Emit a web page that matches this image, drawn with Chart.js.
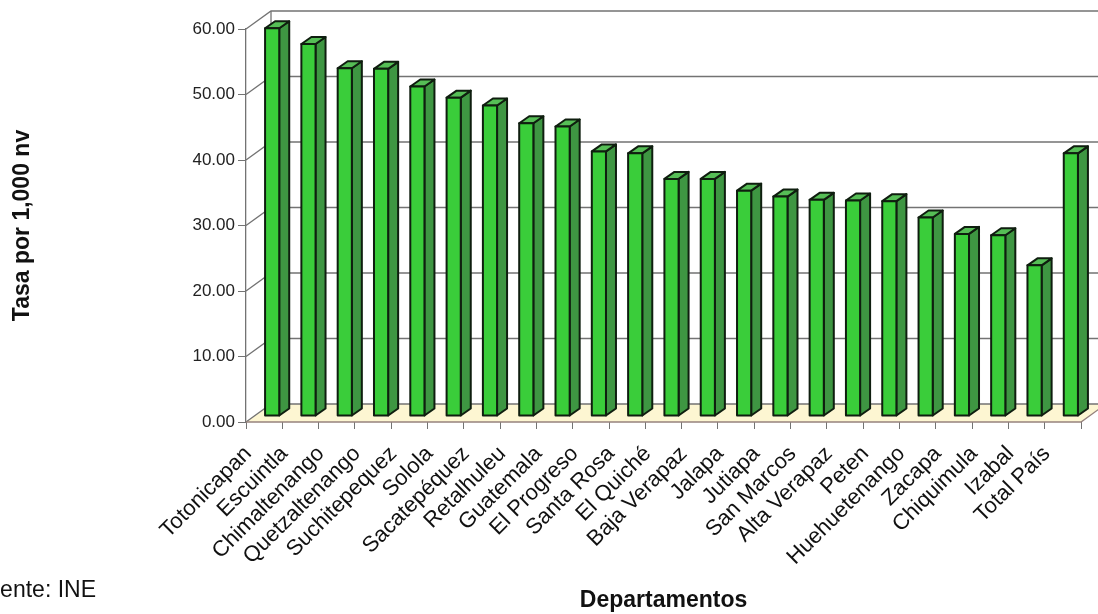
<!DOCTYPE html>
<html>
<head>
<meta charset="utf-8">
<script src="https://cdn.jsdelivr.net/npm/chart.js@4"></script>
<style>
  html, body { margin: 0; padding: 0; background: #fff; }
  #wrap { width: 1098px; height: 614px; position: relative; }
</style>
</head>
<body>
<div id="wrap"><canvas id="myChart"></canvas></div>
<script>
// Tasa por 1,000 nv, por departamento
const departamentos = [
  "Totonicapan", "Escuintla", "Chimaltenango", "Quetzaltenango", "Suchitepequez",
  "Solola", "Sacatepéquez", "Retalhuleu", "Guatemala", "El Progreso", "Santa Rosa",
  "El Quiché", "Baja Verapaz", "Jalapa", "Jutiapa", "San Marcos", "Alta Verapaz",
  "Peten", "Huehuetenango", "Zacapa", "Chiquimula", "Izabal", "Total País"
]
const tasas = [
  59.2, 56.8, 53.1, 53.0, 50.3,
  48.6, 47.4, 44.7, 44.2, 40.4, 40.1,
  36.2, 36.2, 34.4, 33.5, 33.0, 32.9,
  32.8, 30.3, 27.8, 27.6, 23.0, 40.1
]
const yTicks = [0, 10, 20, 30, 40, 50, 60]

// 3D look: depth of the floor, and where the bar boxes sit inside it
const floorDepth = { dx: 25, dy: -18 }
const barShift = { dx: 8, dy: -6 }
const barDepth = { dx: 10, dy: -7 }

const FONT = "'Liberation Sans', Arial, sans-serif"

const box3d = {
  id: "box3d",
  beforeDatasetsDraw(chart) {
    const { ctx, chartArea: a, scales: { y } } = chart
    const dx = floorDepth.dx, dy = floorDepth.dy
    ctx.save()

    // floor
    ctx.fillStyle = "rgb(253, 246, 210)"
    ctx.beginPath()
    ctx.moveTo(a.left, a.bottom)
    ctx.lineTo(a.right, a.bottom)
    ctx.lineTo(a.right + dx, a.bottom + dy)
    ctx.lineTo(a.left + dx, a.bottom + dy)
    ctx.closePath()
    ctx.fill()

    // back wall + left wall grid
    ctx.strokeStyle = "rgb(115, 115, 115)"
    ctx.lineWidth = 1.3
    yTicks.forEach(v => {
      const py = y.getPixelForValue(v)
      ctx.beginPath()
      ctx.moveTo(a.left, py)
      ctx.lineTo(a.left + dx, py + dy)
      ctx.lineTo(chart.width + 20, py + dy)
      ctx.stroke()
    })
    // back corner of the walls
    ctx.beginPath()
    ctx.moveTo(a.left + dx, y.getPixelForValue(60) + dy)
    ctx.lineTo(a.left + dx, a.bottom + dy)
    ctx.stroke()

    // floor front edge and right edge
    ctx.strokeStyle = "rgb(150, 130, 125)"
    ctx.beginPath()
    ctx.moveTo(a.left, a.bottom)
    ctx.lineTo(a.right, a.bottom)
    ctx.lineTo(a.right + dx, a.bottom + dy)
    ctx.stroke()
    ctx.restore()
  },
  afterDatasetsDraw(chart) {
    const { ctx } = chart
    const meta = chart.getDatasetMeta(0)
    ctx.save()
    ctx.lineJoin = "round"
    ctx.lineWidth = 2
    ctx.strokeStyle = "rgb(15, 30, 15)"
    meta.data.forEach(bar => {
      const { x, y, base, width } = bar.getProps(["x", "y", "base", "width"], true)
      const l = x - width / 2 + barShift.dx
      const r = x + width / 2 + barShift.dx
      const t = y + barShift.dy
      const b = base + barShift.dy
      const dx = barDepth.dx, dy = barDepth.dy

      // side
      ctx.fillStyle = "rgb(62, 150, 66)"
      ctx.beginPath()
      ctx.moveTo(r, t)
      ctx.lineTo(r + dx, t + dy)
      ctx.lineTo(r + dx, b + dy)
      ctx.lineTo(r, b)
      ctx.closePath()
      ctx.fill()
      ctx.stroke()

      // top
      ctx.fillStyle = "rgb(86, 190, 86)"
      ctx.beginPath()
      ctx.moveTo(l, t)
      ctx.lineTo(l + dx, t + dy)
      ctx.lineTo(r + dx, t + dy)
      ctx.lineTo(r, t)
      ctx.closePath()
      ctx.fill()
      ctx.stroke()

      // front
      ctx.fillStyle = "rgb(58, 205, 58)"
      ctx.fillRect(l, t, r - l, b - t)
      ctx.strokeRect(l, t, r - l, b - t)
    })
    ctx.restore()
  },
  afterDraw(chart) {
    const { ctx } = chart
    ctx.save()
    ctx.font = "23px " + FONT
    ctx.fillStyle = "#111"
    ctx.textAlign = "right"
    ctx.textBaseline = "alphabetic"
    ctx.fillText("Fuente: INE", 96, 597)
    ctx.restore()
  }
}

new Chart("myChart", {
  type: "bar",
  data: {
    labels: departamentos,
    datasets: [{
      label: "Tasa por 1,000 nv",
      data: tasas,
      backgroundColor: "rgba(0, 0, 0, 0)",
      borderWidth: 0,
      categoryPercentage: 1,
      barPercentage: 0.39
    }]
  },
  options: {
    responsive: true,
    maintainAspectRatio: false,
    animation: false,
    layout: { padding: { top: 29, right: 17, left: 0, bottom: 0 } },
    plugins: {
      legend: { display: false },
      tooltip: { enabled: false }
    },
    scales: {
      x: {
        afterFit(scale) { scale.height = 192 },
        grid: { offset: true, drawOnChartArea: false, tickLength: 7, color: "rgb(115, 115, 115)" },
        border: { display: false },
        ticks: {
          autoSkip: false,
          maxRotation: 45,
          minRotation: 45,
          labelOffset: -16,
          padding: 12,
          color: "#111",
          font: { family: FONT, size: 22 }
        },
        title: {
          display: true,
          text: "Departamentos",
          color: "#111",
          padding: { top: 0, bottom: 0 },
          font: { family: FONT, size: 23, weight: "bold" }
        }
      },
      y: {
        min: 0,
        max: 60,
        afterFit(scale) { scale.width = 246 },
        afterBuildTicks(scale) { scale.ticks = yTicks.map(v => ({ value: v })) },
        grid: { drawOnChartArea: false, tickLength: 8, color: "rgb(115, 115, 115)" },
        border: { display: true, color: "rgb(115, 115, 115)", width: 1.3 },
        ticks: {
          padding: 3,
          color: "#222",
          font: { family: FONT, size: 17 },
          callback: v => Number(v).toFixed(2)
        },
        title: {
          display: true,
          text: "Tasa por 1,000 nv",
          color: "#111",
          padding: { top: 9, bottom: 0 },
          font: { family: FONT, size: 23, weight: "bold" }
        }
      }
    }
  },
  plugins: [box3d]
})
</script>
</body>
</html>
